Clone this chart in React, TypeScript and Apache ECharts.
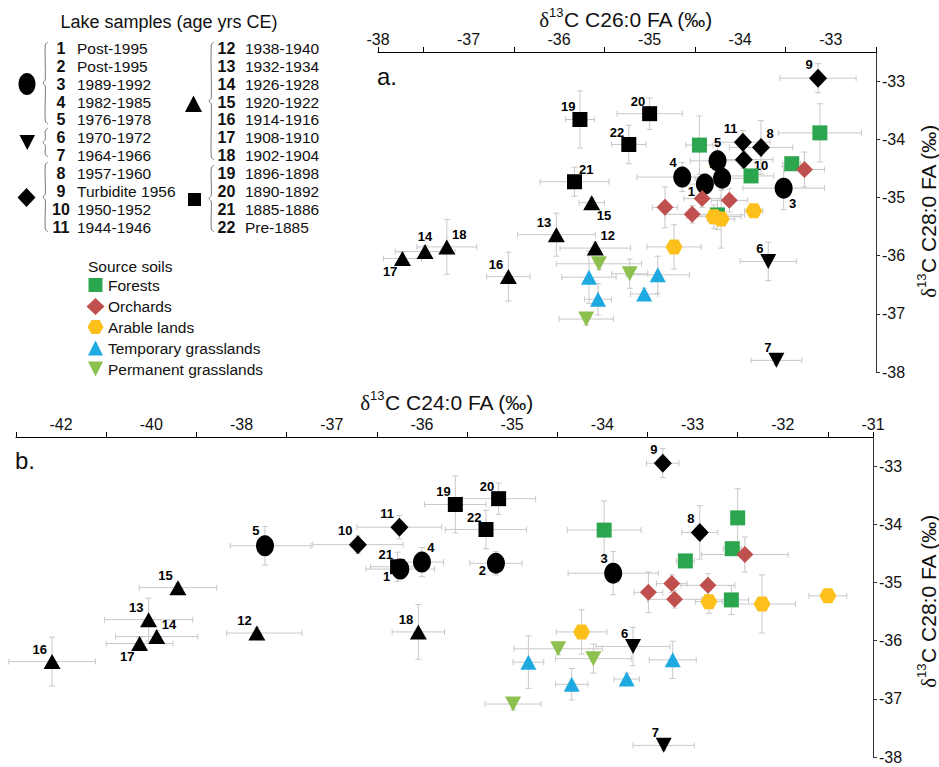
import React, { useEffect, useRef } from 'react';
import * as echarts from 'echarts';

const FONT = '"Liberation Sans", Arial, Helvetica, sans-serif';
const NARROW = '"Liberation Sans Narrow", "Liberation Sans", Arial, sans-serif';

// ---------- Lake samples ----------
const sampleIds = [1, 2, 3, 4, 5, 6, 7, 8, 9, 10, 11, 12, 13, 14, 15, 16, 17, 18, 19, 20, 21, 22];
const sampleAges = ['Post-1995', 'Post-1995', '1989-1992', '1982-1985', '1976-1978', '1970-1972', '1964-1966',
  '1957-1960', 'Turbidite 1956', '1950-1952', '1944-1946', '1938-1940', '1932-1934', '1926-1928', '1920-1922',
  '1914-1916', '1908-1910', '1902-1904', '1896-1898', '1890-1892', '1885-1886', 'Pre-1885'];
const lakeC28 = [-34.77, -34.67, -34.84, -34.65, -34.37, -36.1, -37.8, -34.14, -32.95, -34.35, -34.05,
  -35.87, -35.64, -35.93, -35.09, -36.36, -36.05, -35.85, -33.66, -33.56, -34.73, -34.09];
const lakeC28Err = [0.15, 0.2, 0.37, 0.25, 0.33, 0.33, 0.08, 0.46, 0.25, 0.15, 0.2,
  0.1, 0.37, 0.1, 0.08, 0.42, 0.1, 0.47, 0.49, 0.27, 0.25, 0.33];
const lakeC26 = [-34.39, -34.2, -33.52, -34.64, -34.25, -33.69, -33.6, -33.77, -33.14, -33.96, -33.97,
  -35.6, -36.03, -37.48, -35.64, -36.56, -37.73, -37.24, -35.77, -35.0, -35.83, -35.23];
const lakeC26Err = [0.2, 0.3, 0.45, 0.5, 0.3, 0.31, 0.28, 0.35, 0.42, 0.32, 0.3,
  0.39, 0.43, 0.33, 0.14, 0.24, 0.21, 0.33, 0.16, 0.36, 0.38, 0.19];
const lakeC24 = [-36.24, -35.18, -33.88, -36.0, -37.74, -33.66, -33.32, -32.92, -33.33, -36.71, -36.25,
  -37.83, -40.06, -39.88, -39.41, -42.2, -40.26, -36.04, -35.63, -35.15, -36.27, -35.29];
const lakeC24Err = [0.38, 0.29, 0.5, 0.24, 0.51, 0.41, 0.34, 0.2, 0.18, 0.5, 0.47,
  0.5, 0.98, 0.91, 0.86, 0.96, 0.74, 0.29, 0.34, 0.41, 0.3, 0.45];

const circleIds = [1, 2, 3, 4, 5];
const downIds = [6, 7];
const diamondIds = [8, 9, 10, 11];
const triangleIds = [12, 13, 14, 15, 16, 17, 18];
const squareIds = [19, 20, 21, 22];

// label placement around markers (layout, not data)
const labelPosA = ['lb', 'tl', 'br', 'tl', 't', 'tl', 'tl', 'tr', 'tl', 'rb', 'tl',
  'tr', 'tl', 't', 'br', 'tl', 'bl', 'tr', 'tl', 'tl', 'tr', 'tl'];
const labelPosB = ['lb', 'lb', 'tl', 'tr', 'tl', 'tl', 'tl', 'tl', 'tl', 'tl', 'tl',
  'tl', 'tl', 'tr', 'tl', 'tl', 'bl', 'tl', 'tl', 'tl', 'tl', 'tl'];

// ---------- Source soils ----------
const forestC26 = [-34.45, -33.12, -33.43, -33.88, -34.25];
const forestC24 = [-33.98, -32.5, -32.56, -33.08, -32.57];
const forestC28 = [-34.1, -33.89, -34.42, -34.63, -35.3];
const forestC26Err = [0.15, 0.46, 0.1, 0.25, 0.3];
const forestC24Err = [0.41, 0.05, 0.1, 0.1, 0.19];
const forestC28Err = [0.5, 0.5, 0.1, 0.1, 0.25];

const orchardC26 = [-33.29, -34.42, -34.12, -34.83, -34.53];
const orchardC24 = [-32.42, -33.23, -32.83, -33.49, -33.2];
const orchardC28 = [-34.52, -35.02, -35.05, -35.17, -35.29];
const orchardC26Err = [0.22, 0.2, 0.2, 0.14, 0.3];
const orchardC24Err = [0.48, 0.17, 0.3, 0.16, 0.3];
const orchardC28Err = [0.3, 0.15, 0.2, 0.35, 0.15];

const arableC26 = [-33.85, -34.29, -34.21, -34.73];
const arableC24 = [-31.5, -32.82, -32.23, -34.23];
const arableC28 = [-35.23, -35.33, -35.37, -35.85];
const arableC26Err = [0.1, 0.3, 0.15, 0.3];
const arableC24Err = [0.21, 0.15, 0.37, 0.28];
const arableC28Err = [0.1, 0.2, 0.5, 0.38];

const tempC26 = [-35.67, -35.57, -35.06, -34.91];
const tempC24 = [-34.82, -34.34, -33.73, -33.22];
const tempC28 = [-36.37, -36.75, -36.66, -36.33];
const tempC26Err = [0.3, 0.15, 0.15, 0.35];
const tempC24Err = [0.17, 0.18, 0.14, 0.26];
const tempC28Err = [0.45, 0.27, 0.1, 0.32];

const permC26 = [-35.56, -35.22, -35.7];
const permC24 = [-34.49, -34.1, -34.99];
const permC28 = [-36.14, -36.31, -37.09];
const permC26Err = [0.47, 0.2, 0.3];
const permC24Err = [0.49, 0.42, 0.31];
const permC28Err = [0.1, 0.25, 0.1];

const soilNames = ['Forests', 'Orchards', 'Arable lands', 'Temporary grasslands', 'Permanent grasslands'];

// ---------- Axes ----------
const xLabelsA = [-38, -37, -36, -35, -34, -33];
const xLabelsB = [-42, -40, -38, -37, -36, -35, -34, -33, -32, -31];
const yLabels = [-38, -37, -36, -35, -34, -33];

// broken x axis of panel b: below -38 the scale is compressed 2x
const toU = (x: number) => (x >= -38 ? x : -38 + (x + 38) / 2);
const fromU = (u: number) => (u >= -38 ? u : -38 + (u + 38) * 2);

const HEX = 'path://M0,5L3,0L9,0L12,5L9,10L3,10Z';
const DOWN = 'path://M0,0L10,0L5,10Z';

const COLORS = ['#2CA64E', '#C0504D', '#FDBF1A', '#1FA9E1', '#8DC14F'];

function labelFor(code: string, w: number, h: number) {
  switch (code) {
    case 'tl': return { position: [w * 0.2, h * 0.1], align: 'right', verticalAlign: 'bottom' };
    case 'tr': return { position: [w * 0.8, h * 0.1], align: 'left', verticalAlign: 'bottom' };
    case 'bl': return { position: [w * 0.2, h * 0.9], align: 'right', verticalAlign: 'top' };
    case 'br': return { position: [w * 0.8, h * 0.9], align: 'left', verticalAlign: 'top' };
    case 'lb': return { position: [-1, h * 0.55], align: 'right', verticalAlign: 'top' };
    case 'rb': return { position: [w + 1, h * 0.45], align: 'left', verticalAlign: 'top' };
    default: return { position: [w * 0.5, -1], align: 'center', verticalAlign: 'bottom' };
  }
}

export default function App() {
  const ref = useRef<HTMLDivElement>(null);

  useEffect(() => {
    if (!ref.current) return;
    const chart = echarts.init(ref.current, null, { renderer: 'svg' });

    const lakeSeries = (panel: number, ids: number[], symbol: string, size: number[]) => ({
      type: 'scatter',
      xAxisIndex: panel,
      yAxisIndex: panel,
      symbol,
      symbolSize: size,
      itemStyle: { color: '#000', opacity: 1 },
      label: {
        show: true,
        formatter: (p: any) => String(p.value[2]),
        fontFamily: NARROW,
        fontWeight: 'bold',
        fontSize: 13,
        color: '#000',
        distance: 0,
      },
      data: ids.map((id) => {
        const i = id - 1;
        const x = panel === 0 ? lakeC26[i] : toU(lakeC24[i]);
        const code = (panel === 0 ? labelPosA : labelPosB)[i];
        return { value: [x, lakeC28[i], id], label: labelFor(code, size[0], size[1]) };
      }),
      z: 3,
    });

    const soils = [
      { c26: forestC26, c24: forestC24, c28: forestC28, e26: forestC26Err, e24: forestC24Err, e28: forestC28Err, symbol: 'rect', size: [15, 15] },
      { c26: orchardC26, c24: orchardC24, c28: orchardC28, e26: orchardC26Err, e24: orchardC24Err, e28: orchardC28Err, symbol: 'diamond', size: [17, 17] },
      { c26: arableC26, c24: arableC24, c28: arableC28, e26: arableC26Err, e24: arableC24Err, e28: arableC28Err, symbol: HEX, size: [17, 15] },
      { c26: tempC26, c24: tempC24, c28: tempC28, e26: tempC26Err, e24: tempC24Err, e28: tempC28Err, symbol: 'triangle', size: [16, 15] },
      { c26: permC26, c24: permC24, c28: permC28, e26: permC26Err, e24: permC24Err, e28: permC28Err, symbol: DOWN, size: [16, 15] },
    ];

    const errRows = (panel: number) => {
      const rows: number[][] = [];
      const tf = panel === 0 ? (v: number) => v : toU;
      sampleIds.forEach((id, i) => {
        const x = panel === 0 ? lakeC26[i] : lakeC24[i];
        const e = panel === 0 ? lakeC26Err[i] : lakeC24Err[i];
        rows.push([tf(x), lakeC28[i], tf(x - e), tf(x + e), lakeC28[i] - lakeC28Err[i], lakeC28[i] + lakeC28Err[i]]);
      });
      soils.forEach((s) => {
        s.c28.forEach((y, i) => {
          const x = panel === 0 ? s.c26[i] : s.c24[i];
          const e = panel === 0 ? s.e26[i] : s.e24[i];
          rows.push([tf(x), y, tf(x - e), tf(x + e), y - s.e28[i], y + s.e28[i]]);
        });
      });
      return rows;
    };

    const errSeries = (panel: number) => ({
      type: 'custom',
      xAxisIndex: panel,
      yAxisIndex: panel,
      silent: true,
      z: 1,
      encode: { x: [0, 2, 3], y: [1, 4, 5] },
      data: errRows(panel),
      renderItem: (params: any, api: any) => {
        const x = api.value(0);
        const y = api.value(1);
        const l = api.coord([api.value(2), y]);
        const r = api.coord([api.value(3), y]);
        const b = api.coord([x, api.value(4)]);
        const t = api.coord([x, api.value(5)]);
        const st = { stroke: '#c8c8c8', lineWidth: 1, fill: null };
        const c = 3;
        return {
          type: 'group',
          children: [
            { type: 'line', shape: { x1: l[0], y1: l[1], x2: r[0], y2: r[1] }, style: st },
            { type: 'line', shape: { x1: l[0], y1: l[1] - c, x2: l[0], y2: l[1] + c }, style: st },
            { type: 'line', shape: { x1: r[0], y1: r[1] - c, x2: r[0], y2: r[1] + c }, style: st },
            { type: 'line', shape: { x1: b[0], y1: b[1], x2: t[0], y2: t[1] }, style: st },
            { type: 'line', shape: { x1: b[0] - c, y1: b[1], x2: b[0] + c, y2: b[1] }, style: st },
            { type: 'line', shape: { x1: t[0] - c, y1: t[1], x2: t[0] + c, y2: t[1] }, style: st },
          ],
        };
      },
    });

    const soilSeries = (panel: number) =>
      soils.map((s, k) => ({
        type: 'scatter',
        name: soilNames[k],
        xAxisIndex: panel,
        yAxisIndex: panel,
        symbol: s.symbol,
        symbolSize: s.size,
        itemStyle: { color: COLORS[k], opacity: 1 },
        z: 4,
        data: s.c28.map((y, i) => [panel === 0 ? s.c26[i] : toU(s.c24[i]), y]),
      }));

    const panelSeries = (panel: number) => [
      lakeSeries(panel, squareIds, 'rect', [15, 15]),
      lakeSeries(panel, triangleIds, 'triangle', [17, 15]),
      lakeSeries(panel, diamondIds, 'diamond', [18, 19]),
      lakeSeries(panel, downIds, DOWN, [16, 15]),
      lakeSeries(panel, circleIds, 'circle', [18, 21]),
      ...soilSeries(panel),
    ];

    const axisCommonX = {
      type: 'value',
      position: 'top',
      splitLine: { show: false },
      axisLine: { show: true, onZero: false, lineStyle: { color: '#000', width: 1 } },
    };
    const yAxisCommon = {
      type: 'value',
      position: 'right',
      min: -38,
      max: -32.5,
      splitLine: { show: false },
      axisLine: { show: true, onZero: false, lineStyle: { color: '#333', width: 1 } },
      axisTick: { show: true, customValues: yLabels, length: 4, lineStyle: { color: '#333' } },
      axisLabel: { customValues: yLabels, fontSize: 16, color: '#111', margin: 6, fontFamily: FONT, formatter: (v: number) => String(Math.round(v)) },
    };

    const tickMarksB = xLabelsB.map(toU).map((u) => u - 0.5).concat([-31]);
    const tickMarksA = [-38].concat(xLabelsA.map((v) => v + 0.5));

    const txt = (text: string, x: number, y: number, size: number, extra: any = {}) => ({
      type: 'text',
      x,
      y,
      silent: true,
      style: {
        text,
        fontSize: size,
        fontFamily: FONT,
        fill: '#111',
        align: 'left',
        verticalAlign: 'middle',
        textAlign: 'left',
        textVerticalAlign: 'middle',
        ...extra,
      },
    });

    const richTitle = (label: string) => ({
      text: '{d|δ}{s|13}{n|C ' + label + ' FA (‰)}',
      rich: {
        d: { fontSize: 21, fontFamily: '"Liberation Serif", "DejaVu Serif", serif', fill: '#111', verticalAlign: 'bottom', lineHeight: 24 },
        s: { fontSize: 13, fontFamily: FONT, fill: '#111', verticalAlign: 'top', lineHeight: 24 },
        n: { fontSize: 21, fontFamily: FONT, fill: '#111', verticalAlign: 'bottom', lineHeight: 24 },
      },
      align: 'center',
      verticalAlign: 'middle',
      textAlign: 'center',
      textVerticalAlign: 'middle',
    });

    const graphics: any[] = [];
    // axis titles
    graphics.push({ type: 'text', x: 626, y: 18, silent: true, style: richTitle('C26:0') });
    graphics.push({ type: 'text', x: 447, y: 401, silent: true, style: richTitle('C24:0') });
    graphics.push({ type: 'text', x: 927, y: 211, rotation: Math.PI / 2, silent: true, style: richTitle('C28:0') });
    graphics.push({ type: 'text', x: 927, y: 601, rotation: Math.PI / 2, silent: true, style: richTitle('C28:0') });
    // panel letters
    graphics.push(txt('a.', 377, 76, 24));
    graphics.push(txt('b.', 15, 460, 24));

    // Lake samples legend
    graphics.push(txt('Lake samples (age yrs CE)', 169, 22, 18, { align: 'center', textAlign: 'center' }));
    const rowY = (r: number) => 48.5 + r * 17.85;
    sampleIds.forEach((id, i) => {
      const col = i < 11 ? 0 : 1;
      const r = i < 11 ? i : i - 11;
      const nx = col === 0 ? 61 : 226.5;
      const tx = col === 0 ? 77 : 245;
      graphics.push(txt(String(id), nx, rowY(r), 16, { fontWeight: 'bold', align: 'center', textAlign: 'center', fontFamily: NARROW }));
      graphics.push(txt(sampleAges[i], tx, rowY(r), 15.5));
    });
    const brace = (x: number, y1: number, y2: number) => {
      const w = 5;
      const m = (y1 + y2) / 2;
      return {
        type: 'polyline',
        silent: true,
        shape: {
          points: [[x + w, y1], [x + w * 0.45, y1 + 3], [x + w * 0.45, m - 3], [x, m], [x + w * 0.45, m + 3], [x + w * 0.45, y2 - 3], [x + w, y2]],
          smooth: 0.3,
        },
        style: { stroke: '#777', lineWidth: 1, fill: null },
      };
    };
    graphics.push(brace(43, 42, 124));
    graphics.push(brace(43, 128, 157));
    graphics.push(brace(43, 162, 232));
    graphics.push(brace(209, 42, 160));
    graphics.push(brace(209, 165, 232));
    graphics.push({ type: 'ellipse', silent: true, shape: { cx: 27, cy: 84, rx: 8.5, ry: 11 }, style: { fill: '#000' } });
    graphics.push({ type: 'polygon', silent: true, shape: { points: [[19.5, 135], [35, 135], [27.3, 150]] }, style: { fill: '#000' } });
    graphics.push({ type: 'polygon', silent: true, shape: { points: [[26.5, 188], [35.5, 197.5], [26.5, 207], [17.5, 197.5]] }, style: { fill: '#000' } });
    graphics.push({ type: 'polygon', silent: true, shape: { points: [[185, 112], [202, 112], [193.5, 95.5]] }, style: { fill: '#000' } });
    graphics.push({ type: 'rect', silent: true, shape: { x: 188, y: 193, width: 13, height: 13 }, style: { fill: '#000' } });

    // Source soils legend
    graphics.push(txt('Source soils', 88, 266, 15.5));
    const legY = [285, 306.5, 327, 348, 369];
    graphics.push({ type: 'rect', silent: true, shape: { x: 88.5, y: 278, width: 14, height: 14 }, style: { fill: COLORS[0] } });
    graphics.push({ type: 'polygon', silent: true, shape: { points: [[95.5, 298], [104.5, 306.5], [95.5, 315], [86.5, 306.5]] }, style: { fill: COLORS[1] } });
    graphics.push({ type: 'polygon', silent: true, shape: { points: [[87.5, 327], [91.5, 320], [99.5, 320], [103.5, 327], [99.5, 334], [91.5, 334]] }, style: { fill: COLORS[2] } });
    graphics.push({ type: 'polygon', silent: true, shape: { points: [[88, 355.5], [103, 355.5], [95.5, 340.5]] }, style: { fill: COLORS[3] } });
    graphics.push({ type: 'polygon', silent: true, shape: { points: [[88, 361.5], [103, 361.5], [95.5, 376.5]] }, style: { fill: COLORS[4] } });
    soilNames.forEach((n, k) => graphics.push(txt(n, 108, legY[k], 15.5)));

    const option: any = {
      animation: false,
      textStyle: { fontFamily: FONT },
      grid: [
        { left: 378, top: 52, width: 498, height: 320 },
        { left: 16, top: 437, width: 857, height: 320 },
      ],
      xAxis: [
        {
          ...axisCommonX,
          gridIndex: 0,
          min: -38,
          max: -32.5,
          axisTick: { show: true, customValues: tickMarksA, length: 5, lineStyle: { color: '#000' } },
          axisLabel: { customValues: xLabelsA, fontSize: 16, color: '#111', margin: 5, fontFamily: FONT, formatter: (v: number) => String(Math.round(v)) },
        },
        {
          ...axisCommonX,
          gridIndex: 1,
          min: -40.5,
          max: -31,
          axisTick: { show: true, customValues: tickMarksB, length: 5, lineStyle: { color: '#000' } },
          axisLabel: { customValues: xLabelsB.map(toU), fontSize: 16, color: '#111', margin: 5, fontFamily: FONT, formatter: (u: number) => String(Math.round(fromU(u))) },
        },
      ],
      yAxis: [
        { ...yAxisCommon, gridIndex: 0 },
        { ...yAxisCommon, gridIndex: 1 },
      ],
      series: [errSeries(0), errSeries(1), ...panelSeries(0), ...panelSeries(1)],
      graphic: graphics,
    };

    chart.setOption(option);
    return () => chart.dispose();
  }, []);

  return (
    <div
      ref={ref}
      style={{ position: 'absolute', left: 0, top: 0, width: 939, height: 767, background: '#fff' }}
    />
  );
}
